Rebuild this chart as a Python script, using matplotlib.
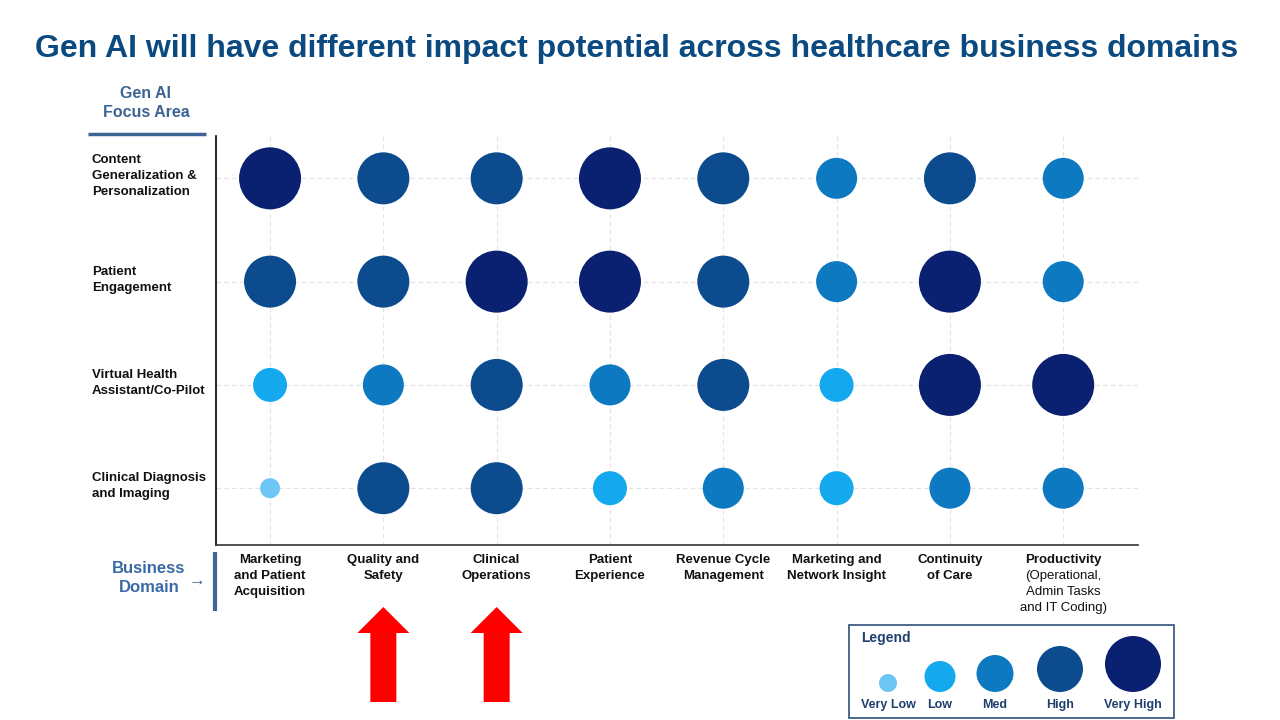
import numpy as np
import matplotlib
matplotlib.use("Agg")
import matplotlib.pyplot as plt
from matplotlib.patches import Polygon, Rectangle

plt.rcParams["font.family"] = ["Liberation Sans", "DejaVu Sans"]

# impact levels: 1 = Very Low ... 5 = Very High
focus_areas = [
    "Content\nGeneralization &\nPersonalization",
    "Patient\nEngagement",
    "Virtual Health\nAssistant/Co-Pilot",
    "Clinical Diagnosis\nand Imaging",
]
domains = [
    "Marketing\nand Patient\nAcquisition",
    "Quality and\nSafety",
    "Clinical\nOperations",
    "Patient\nExperience",
    "Revenue Cycle\nManagement",
    "Marketing and\nNetwork Insight",
    "Continuity\nof Care",
    "Productivity",
]
domain_notes = ["", "", "", "", "", "", "", "(Operational,\nAdmin Tasks\nand IT Coding)"]
impact = [
    [5, 4, 4, 5, 4, 3, 4, 3],
    [4, 4, 5, 5, 4, 3, 5, 3],
    [2, 3, 4, 3, 4, 2, 5, 5],
    [1, 4, 4, 2, 3, 2, 3, 3],
]
highlighted = ["Quality and\nSafety", "Clinical\nOperations"]
level_names = ["Very Low", "Low", "Med", "High", "Very High"]
level_colors = ["#6ec6f5", "#14a9ef", "#0d79c1", "#0c4c8e", "#0a2070"]
level_diam = [20, 34, 41, 52, 62]      # bubble diameter in pixels
legend_diam = [18, 31, 37, 46, 56]

TITLE_BLUE = "#0b4a80"
MUTED_BLUE = "#3c6494"

fig = plt.figure(figsize=(12.8, 7.2), dpi=100)
W, H = 1280, 720


def fax(x0, y0, x1, y1):
    # pixel box (top-left origin) -> figure fraction rect
    return [x0 / W, 1 - y1 / H, (x1 - x0) / W, (y1 - y0) / H]


ax = fig.add_axes(fax(216, 136, 1138, 545))
ax.set_xlim(0.523, 8.66)
ax.set_ylim(0.45, 4.41)

n_rows = len(focus_areas)
for r, row in enumerate(impact):
    y = n_rows - r
    for c, lvl in enumerate(row):
        d = level_diam[lvl - 1] * 0.72
        ax.scatter(c + 1, y, s=d ** 2, color=level_colors[lvl - 1],
                   edgecolors="none", zorder=3)

ax.set_xticks(np.arange(1, len(domains) + 1))
ax.set_yticks(np.arange(1, n_rows + 1))
ax.grid(True, color="#e2e2e2", linestyle=(0, (4, 3)), linewidth=0.8, zorder=0)
ax.tick_params(length=0, labelbottom=False, labelleft=False)
for side in ["top", "right"]:
    ax.spines[side].set_visible(False)
ax.spines["left"].set_linewidth(1.2)
ax.spines["bottom"].set_linewidth(1.2)
ax.spines["bottom"].set_color("#333333")

# overlay axes in pixel coordinates for all the decoration
lax = fig.add_axes([0, 0, 1, 1])
lax.set_xlim(0, W)
lax.set_ylim(H, 0)
lax.axis("off")


def to_px(x, y):
    dx, dy = ax.transData.transform((x, y))
    return dx, H - dy


# row labels
for r, name in enumerate(focus_areas):
    _, py = to_px(1, n_rows - r)
    lax.text(92, py - 2, name, ha="left", va="center",
             fontsize=9.5, fontweight="bold", color="#111111", linespacing=1.45)

# column labels
for c, (name, note) in enumerate(zip(domains, domain_notes)):
    px, _ = to_px(c + 1, 1)
    lax.text(px, 554, name, ha="center", va="top",
             fontsize=9.5, fontweight="bold", color="#111111", linespacing=1.45)
    if note:
        lax.text(px, 570, note, ha="center", va="top",
                 fontsize=9.5, color="#111111", linespacing=1.45)

# title and side headers
lax.text(637, 49,
         "Gen AI will have different impact potential across healthcare business domains",
         ha="center", va="center", fontsize=23, fontweight="bold", color=TITLE_BLUE)
lax.text(146, 103, "Gen AI\nFocus Area", ha="center", va="center",
         fontsize=11.5, fontweight="bold", color=MUTED_BLUE, linespacing=1.3)
lax.plot([88, 206], [134, 134], color=MUTED_BLUE, linewidth=2.5,
         solid_capstyle="butt")
lax.text(149, 578, "Business\nDomain", ha="center", va="center",
         fontsize=12, fontweight="bold", color="#3a6aa5", linespacing=1.3)
lax.text(197, 581, "\u2192", ha="center", va="center",
         fontsize=12, color=MUTED_BLUE)
lax.plot([215, 215], [552, 611], color=MUTED_BLUE, linewidth=3,
         solid_capstyle="butt")

# red arrows under highlighted domains
for name in highlighted:
    cx, _ = to_px(domains.index(name) + 1, 1)
    pts = [(cx, 607), (cx + 26, 633), (cx + 13, 633), (cx + 13, 702),
           (cx - 13, 702), (cx - 13, 633), (cx - 26, 633)]
    lax.add_patch(Polygon(pts, closed=True, facecolor="#ff0000", edgecolor="none"))

# legend
lax.add_patch(Rectangle((849, 625), 1174 - 849, 718 - 625, facecolor="white",
                        edgecolor="#2e4f78", linewidth=1.2, zorder=1))
lax.text(861, 638, "Legend", ha="left", va="center",
         fontsize=10, fontweight="bold", color="#1f3f6e", zorder=2)
legend_x = [888, 940, 995, 1060, 1133]
for x, name, col, d in zip(legend_x, level_names, level_colors, legend_diam):
    lax.scatter(x, 692 - d / 2, s=(d * 0.72) ** 2, color=col,
                edgecolors="none", zorder=3)
    lax.text(x, 705, name, ha="center", va="center", fontsize=9,
             fontweight="bold", color="#1f3f6e", zorder=3)

fig.savefig("out.png", dpi=100)
